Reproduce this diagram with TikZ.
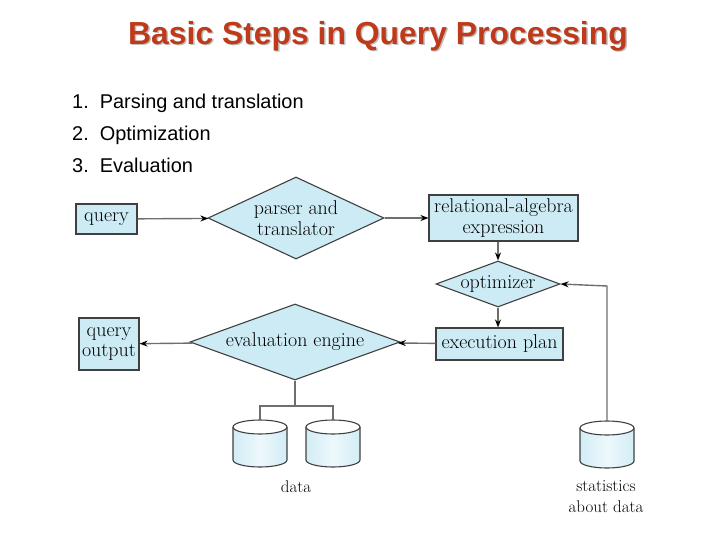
\documentclass[tikz,border=0pt]{standalone}
\usepackage{fontspec}
\newfontfamily\arialfont{Liberation Sans}
\usepackage{tikz}
\usetikzlibrary{shapes.geometric,arrows.meta}
\usepackage{xcolor}
\definecolor{titlered}{HTML}{BF3A1A}
\definecolor{boxblue}{HTML}{CDEBF5}
\definecolor{linegray}{HTML}{6E6E6E}
\colorlet{cylblue}{boxblue!90!white}

\tikzset{
  flowbox/.style={draw=black!75, fill=boxblue, line width=1.1bp, inner sep=0pt,
    font=\fontsize{20}{21}\selectfont, align=center},
  flowdiam/.style={diamond, draw=black!75, fill=boxblue, line width=1.1bp, inner sep=0pt,
    font=\fontsize{20}{21}\selectfont, align=center},
  disk/.pic={
    \path[left color=cylblue, right color=cylblue, middle color=boxblue!35!white]
      (-27,0) -- (-27,33) arc[start angle=180, end angle=0, x radius=27, y radius=7] -- (27,0) -- cycle;
    \draw[draw=black!75, line width=1.1bp]
      (-27,0) -- (-27,33) arc[start angle=180, end angle=0, x radius=27, y radius=7] -- (27,0);
    \draw[draw=black!75, line width=1.1bp, fill=white] (0,0) ellipse[x radius=27, y radius=7];
    \coordinate (-top) at (0,-7);
  },
  flow/.style={draw=linegray, line width=1.4bp},
  caption/.style={font=\fontsize{17}{21}\selectfont, align=center},
  steptext/.style={anchor=base west, inner sep=0pt, font=\arialfont\fontsize{20}{22}\selectfont}
}

\begin{document}
\begin{tikzpicture}[x=1bp, y=-1bp, >={Stealth[length=8bp,width=6bp,black]}]
  \useasboundingbox (0,0) rectangle (720,540);

  % title and steps
  \node[text=black!25, font=\arialfont\bfseries\fontsize{32}{36}\selectfont] (titleshadow) at (379.5,37.5) {Basic Steps in Query Processing};
  \node[text=titlered, font=\arialfont\bfseries\fontsize{32}{36}\selectfont] (title) at (378,36) {Basic Steps in Query Processing};
  \node[steptext] (stepa) at (72,109) {1.\ \ Parsing and translation};
  \node[steptext] (stepb) at (72,141) {2.\ \ Optimization};
  \node[steptext] (stepc) at (72,173) {3.\ \ Evaluation};

  % flow
  \node[flowbox, minimum width=61bp, minimum height=30bp] (query) at (106.5,219) {query};
  \node[flowdiam, aspect=2.15, minimum width=176bp, minimum height=82bp] (parser) at (296,218) {parser and\\translator};
  \node[flowbox, minimum width=149bp, minimum height=46bp] (relalg) at (503.5,218) {relational-algebra\\expression};
  \node[flowdiam, aspect=2.7, minimum width=124bp, minimum height=46bp] (optim) at (498,284) {optimizer};
  \node[flowbox, minimum width=127bp, minimum height=32bp] (plan) at (499.5,344) {execution plan};
  \node[flowdiam, aspect=2.76, minimum width=210bp, minimum height=76bp] (engine) at (295,342) {evaluation engine};
  \node[flowbox, minimum width=60bp, minimum height=52bp] (qout) at (109,344) {query\\output};

  % storage
  \pic (dataa) at (260,427) {disk};
  \pic (datab) at (333,427) {disk};
  \pic (stats) at (607,428) {disk};
  \node[caption] (datalbl) at (296,487) {data};
  \node[caption] (statslbl) at (606,497) {statistics\\about data};
  \coordinate (split) at (295,406);
  \coordinate (statcorner) at (607,286);

  \draw[flow, ->] (query) -- (parser);
  \draw[flow, ->] (parser) -- (relalg);
  \draw[flow, ->] (relalg.south -| optim.north) -- (optim.north);
  \draw[flow, ->] (optim) -- (plan.north -| optim.south);
  \draw[flow, ->] (plan) -- (engine);
  \draw[flow, ->] (engine) -- (qout);
  \draw[flow] (engine.south) -- (split);
  \draw[flow] (dataa-top) |- (split) -| (datab-top);
  \draw[flow, ->] (stats-top) -- (statcorner) -- (optim.east);
\end{tikzpicture}
\end{document}
